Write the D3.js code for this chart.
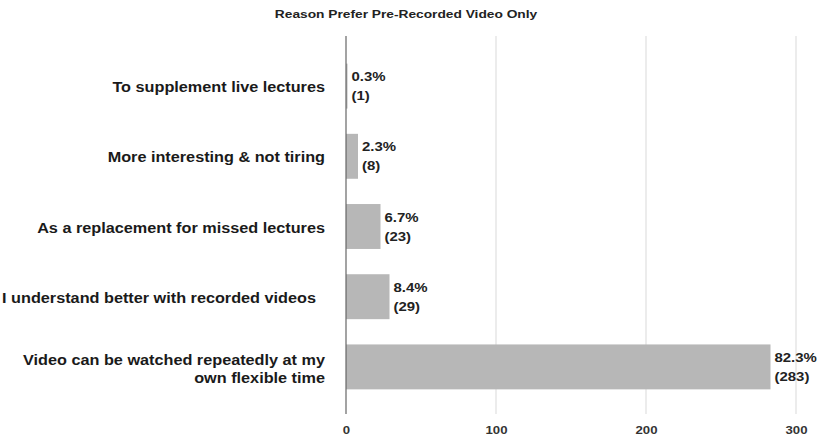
<!DOCTYPE html>
<html><head><meta charset="utf-8">
<script src="https://cdn.jsdelivr.net/npm/d3@7"></script>
<style>body{margin:0;background:#fff}svg{font-family:"Liberation Sans",Arial,sans-serif}</style>
</head><body>
<svg id="c" width="823" height="440"></svg>
<script>
const title = "Reason Prefer Pre-Recorded Video Only";
const categories = [
  ["To supplement live lectures"],
  ["More interesting & not tiring"],
  ["As a replacement for missed lectures"],
  ["I understand better with recorded videos  "],
  ["Video can be watched repeatedly at my", "own flexible time"]
];
const counts = [1, 8, 23, 29, 283];
const percents = ["0.3%", "2.3%", "6.7%", "8.4%", "82.3%"];
const ticks = [0, 100, 200, 300];

const svg = d3.select("#c");
const x = d3.scaleLinear().domain([0, 300]).range([346, 796]);
const y = d3.scaleBand().domain(d3.range(categories.length)).range([51, 402]).paddingInner(0.36).paddingOuter(0.18);
const gTop = 36, gBot = 414;

function txt(g, px, py, s, opts) {
  return g.append("text")
    .attr("transform", `translate(${px},${py}) scale(${opts.sx || 1},1)`)
    .attr("text-anchor", opts.anchor || "start")
    .attr("font-size", opts.size).attr("font-weight", "bold")
    .attr("fill", opts.fill || "#1a1a1a")
    .style("white-space", "pre")
    .text(s);
}

txt(svg, 406, 18, title, {size: 11, sx: 1.25, anchor: "middle", fill: "#222"});

// gridlines
svg.append("g").selectAll("line").data(ticks.filter(t => t > 0)).join("line")
  .attr("x1", d => x(d)).attr("x2", d => x(d)).attr("y1", gTop).attr("y2", gBot)
  .attr("stroke", "#d9d9d9").attr("stroke-width", 1);

// bars
svg.append("g").selectAll("rect").data(counts).join("rect")
  .attr("x", x(0)).attr("y", (d, i) => y(i))
  .attr("width", d => x(d) - x(0)).attr("height", y.bandwidth())
  .attr("fill", "#b7b7b7");

// zero axis
svg.append("line").attr("x1", x(0)).attr("x2", x(0)).attr("y1", gTop).attr("y2", gBot)
  .attr("stroke", "#666").attr("stroke-width", 1.2);

// tick labels (via axis scale positions)
const axis = d3.axisBottom(x).tickValues(ticks).tickSize(0).tickPadding(0);
const ax = svg.append("g").attr("transform", `translate(0,${gBot})`).call(axis);
ax.select(".domain").remove();
ax.selectAll(".tick text").remove();
ax.selectAll(".tick").each(function(d) {
  txt(d3.select(this), 0, 20, String(d), {size: 11, sx: 1.2, anchor: "middle", fill: "#333"});
});

// category labels
categories.forEach((lines, i) => {
  const cy = y(i) + y.bandwidth() / 2;
  const n = lines.length;
  lines.forEach((t, j) => {
    txt(svg, 325, cy + (j - (n - 1) / 2) * 18 + (n > 1 ? 7 : 6), t, {size: 14, sx: 1.16, anchor: "end"});
  });
});

// value labels
counts.forEach((d, i) => {
  const cy = y(i) + y.bandwidth() / 2;
  const tx = x(d) + 4;
  txt(svg, tx, cy - 5, percents[i], {size: 13, sx: 1.15, fill: "#222"});
  txt(svg, tx, cy + 14, `(${d})`, {size: 13, sx: 1.15, fill: "#222"});
});
</script>
</body></html>
